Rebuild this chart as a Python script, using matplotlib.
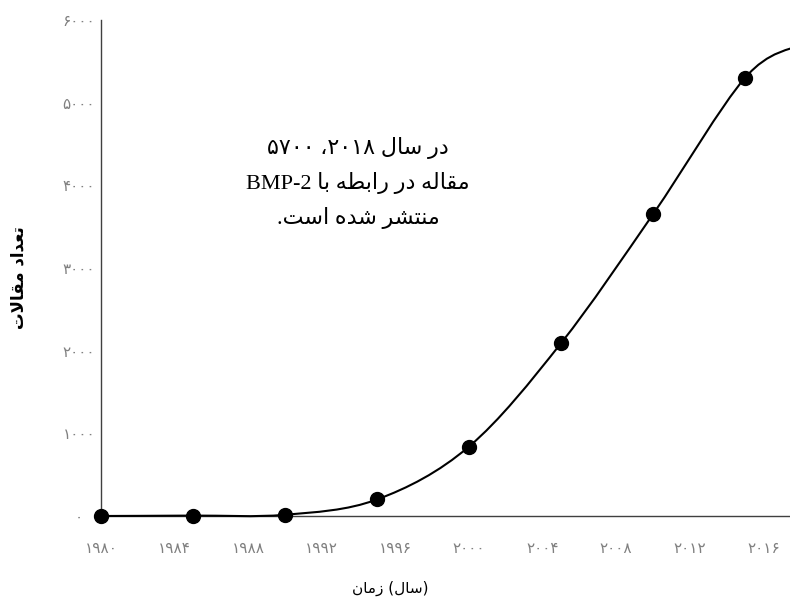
import matplotlib
matplotlib.use("Agg")
import matplotlib.pyplot as plt
from matplotlib.path import Path
from matplotlib.patches import PathPatch

# data (number of BMP-2 articles per year)
years = [1980, 1985, 1990, 1995, 2000, 2005, 2010, 2015, 2018]
articles = [0, 5, 15, 200, 840, 2090, 3650, 5300, 5700]

x_ticks = [1980, 1984, 1988, 1992, 1996, 2000, 2004, 2008, 2012, 2016]
y_ticks = [0, 1000, 2000, 3000, 4000, 5000, 6000]

y_title = "تعداد مقالات"
x_title_word = "زمان"
x_title_unit = "سال"
note_lines = ["در سال ۲۰۱۸، ۵۷۰۰", "مقاله در رابطه با BMP-2", "منتشر شده است."]

# persian digits for tick labels
fa_digits = str.maketrans("0123456789", "۰۱۲۳۴۵۶۷۸۹")

# matplotlib does not shape arabic script, so do a small shaping by hand:
# (isolated, final, initial, medial) presentation forms
forms = {
    "ا": (0xFE8D, 0xFE8E, None, None),
    "ب": (0xFE8F, 0xFE90, 0xFE91, 0xFE92),
    "ت": (0xFE95, 0xFE96, 0xFE97, 0xFE98),
    "د": (0xFEA9, 0xFEAA, None, None),
    "ر": (0xFEAD, 0xFEAE, None, None),
    "ز": (0xFEAF, 0xFEB0, None, None),
    "س": (0xFEB1, 0xFEB2, 0xFEB3, 0xFEB4),
    "ش": (0xFEB5, 0xFEB6, 0xFEB7, 0xFEB8),
    "ط": (0xFEC1, 0xFEC2, 0xFEC3, 0xFEC4),
    "ع": (0xFEC9, 0xFECA, 0xFECB, 0xFECC),
    "ق": (0xFED5, 0xFED6, 0xFED7, 0xFED8),
    "ل": (0xFEDD, 0xFEDE, 0xFEDF, 0xFEE0),
    "م": (0xFEE1, 0xFEE2, 0xFEE3, 0xFEE4),
    "ن": (0xFEE5, 0xFEE6, 0xFEE7, 0xFEE8),
    "ه": (0xFEE9, 0xFEEA, 0xFEEB, 0xFEEC),
    "لا": (0xFEFB, 0xFEFC, None, None),
}


def shape(s):
    units = []
    i = 0
    while i < len(s):
        if s[i] == "ل" and i + 1 < len(s) and s[i + 1] == "ا":
            units.append("لا")
            i += 2
        else:
            units.append(s[i])
            i += 1
    out = ""
    for k, u in enumerate(units):
        if u not in forms:
            out += u
            continue
        prev = units[k - 1] if k > 0 else None
        nxt = units[k + 1] if k + 1 < len(units) else None
        join_prev = prev in forms and forms[prev][2] is not None
        join_next = forms[u][2] is not None and nxt in forms
        if join_prev and join_next:
            idx = 3
        elif join_prev:
            idx = 1
        elif join_next:
            idx = 2
        else:
            idx = 0
        out += chr(forms[u][idx])
    return out


def is_ltr(c):
    return (c.isascii() and c not in " .()") or c in "۰۱۲۳۴۵۶۷۸۹"


def rtl(s):
    # shape, then lay out right to left keeping latin / digit runs as they are
    s = shape(s)
    runs = []
    for c in s:
        if runs and is_ltr(c) == runs[-1][0]:
            runs[-1][1] += c
        else:
            runs.append([is_ltr(c), c])
    out = ""
    for ltr, txt in reversed(runs):
        if ltr:
            out += txt
        else:
            out += txt[::-1].translate(str.maketrans("()", ")("))
    return out


fig = plt.figure(figsize=(7.9, 5.99), dpi=100)
ax = fig.add_axes([101 / 790, 1 - 516 / 599, 1 - 101 / 790, (516 - 20) / 599])

# smooth line like a spreadsheet "smoothed line" (bezier through the points)
verts = [(years[0], articles[0])]
codes = [Path.MOVETO]
n = len(years)
for i in range(n - 1):
    x0, y0 = years[max(i - 1, 0)], articles[max(i - 1, 0)]
    x1, y1 = years[i], articles[i]
    x2, y2 = years[i + 1], articles[i + 1]
    x3, y3 = years[min(i + 2, n - 1)], articles[min(i + 2, n - 1)]
    verts += [(x1 + (x2 - x0) / 6, y1 + (y2 - y0) / 6),
              (x2 - (x3 - x1) / 6, y2 - (y3 - y1) / 6),
              (x2, y2)]
    codes += [Path.CURVE4] * 3
curve = PathPatch(Path(verts, codes), facecolor="none", edgecolor="black",
                  linewidth=1.5, clip_on=False, zorder=3)
ax.add_patch(curve)
ax.plot(years, articles, "o", color="black", markersize=10, clip_on=False, zorder=4)

ax.set_xlim(1980, 1980 + (790 - 101) / 18.4)
ax.set_ylim(0, 6000)

ax.set_xticks(x_ticks, [str(v).translate(fa_digits) for v in x_ticks])
ax.set_yticks(y_ticks, [str(v).translate(fa_digits) for v in y_ticks])
ax.tick_params(axis="x", length=0, pad=18, labelsize=11, labelcolor="#808080")
ax.tick_params(axis="y", length=0, pad=16, labelsize=11, labelcolor="#808080")
for lab in ax.get_yticklabels():
    lab.set_horizontalalignment("center")

for side in ["top", "right"]:
    ax.spines[side].set_visible(False)
for side in ["left", "bottom"]:
    ax.spines[side].set_color("#404040")
    ax.spines[side].set_linewidth(1.0)

# axis titles
fig.text(18 / 790, 1 - 278 / 599, rtl(y_title), rotation=90, ha="center", va="center",
         fontsize=12, fontweight="bold", family=["DejaVu Sans"])
fig.text(390 / 790, 1 - 588 / 599, rtl(x_title_word) + " (" + rtl(x_title_unit) + ")",
         ha="center", va="center", fontsize=11, family=["DejaVu Sans"])

# note inside the plot
note = "\n".join(rtl(line) for line in note_lines)
fig.text(358 / 790, 1 - 183 / 599, note, ha="center", va="center", fontsize=16,
         linespacing=1.75, family=["Liberation Serif", "DejaVu Sans"])

plt.savefig("out.png", dpi=100)
